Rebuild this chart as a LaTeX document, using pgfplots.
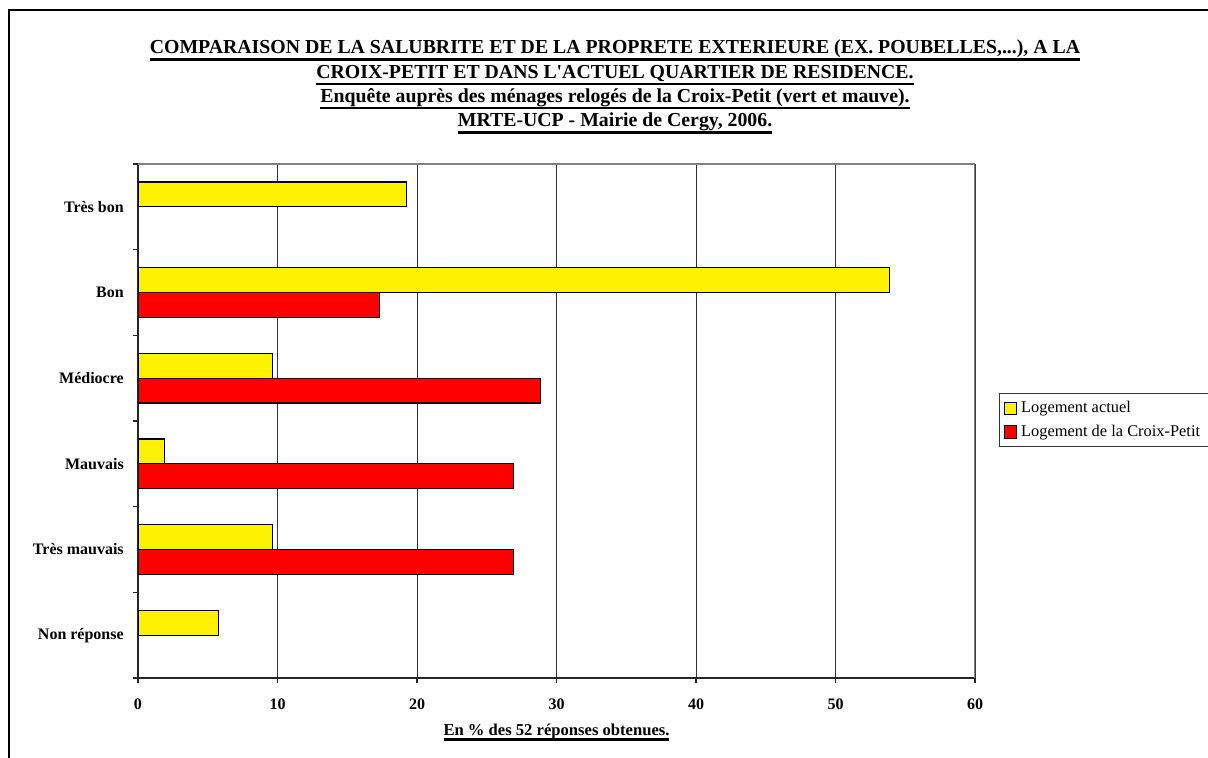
\documentclass[border=0pt]{standalone}
\usepackage{fontspec}
\setmainfont{Liberation Serif}
\usepackage{pgfplots}
\pgfplotsset{compat=1.18}
\newcommand\myul[3]{\setbox0=\hbox{#3}\rlap{\rule[#1]{\wd0}{#2}}\box0}
\newcommand\lab{\fontsize{8}{9.6}\selectfont\bfseries}
\newcommand\ttl{\fontsize{9.9}{11.5}\selectfont\bfseries}
\begin{document}
\begin{tikzpicture}
\useasboundingbox (-69pt,-40pt) rectangle (535pt,339pt);
\draw[line width=1.1pt] (-64.5pt,-41pt) -- (-64.5pt,334pt) -- (536pt,334pt);
\begin{axis}[
  at={(0pt,0pt)}, anchor=south west,
  scale only axis, width=418.5pt, height=257pt,
  xbar, bar width=0.29,
  xmin=0, xmax=60, ymin=-0.5, ymax=5.5,
  axis x line*=bottom, axis y line*=left,
  axis line style={-, draw=black!85, line width=0.75pt},
  xtick={0,10,...,60},
  ytick={-0.5,0.5,...,5.5}, yticklabels={},
  extra y ticks={0,1,2,3,4,5},
  extra y tick labels={Non réponse,Très mauvais,Mauvais,Médiocre,Bon,Très bon},
  extra y tick style={major tick length=0pt},
  tick align=outside, major tick length=2.5pt,
  tick style={draw=black!85, line width=0.6pt},
  xmajorgrids=true,
  grid style={draw=black!80, line width=0.5pt},
  /pgf/number format/assume math mode=true,
  ticklabel style={font=\lab},
  xticklabel style={yshift=-4.3pt},
  yticklabel style={xshift=-3.6pt},
  legend style={at={(rel axis cs:1.0287,0.5545)}, anchor=north west,
    draw=black!80, line width=0.5pt, font=\fontsize{8.2}{9.8}\selectfont,
    inner xsep=2pt, inner ysep=1.5pt, row sep=0pt,
    nodes={inner ysep=2.3pt},
    cells={anchor=west}},
  legend cell align=left,
  legend image code/.code={\draw[#1,line width=0.5pt] (0pt,-3.1pt) rectangle (6.3pt,3.1pt);},
]
\addplot[fill=yellow, draw=black, line width=0.6pt, bar shift=0.145]
  coordinates {(19.23,5) (53.85,4) (9.62,3) (1.92,2) (9.62,1) (5.77,0)};
\addlegendentry{Logement actuel}
\addplot[fill=red, draw=black, line width=0.6pt, bar shift=-0.145]
  coordinates {(17.31,4) (28.85,3) (26.92,2) (26.92,1)};
\addlegendentry{Logement de la Croix-Petit}
\draw[black!50, line width=0.6pt] (rel axis cs:0,1) -- (rel axis cs:1,1) -- (rel axis cs:1,0);
\end{axis}
\node[anchor=base, inner sep=0pt] at (238.5pt,312pt) {\ttl\myul{-3.35pt}{1.2pt}{COMPARAISON DE LA SALUBRITE ET DE LA PROPRETE EXTERIEURE (EX. POUBELLES,...), A LA}};
\node[anchor=base, inner sep=0pt] at (238.5pt,299.85pt) {\ttl\myul{-3.35pt}{1.2pt}{CROIX-PETIT ET DANS L\textquotesingle ACTUEL QUARTIER DE RESIDENCE.}};
\node[anchor=base, inner sep=0pt] at (238.5pt,287.7pt) {\ttl\myul{-3.35pt}{1.2pt}{Enquête auprès des ménages relogés de la Croix-Petit (vert et mauve).}};
\node[anchor=base, inner sep=0pt] at (238.5pt,275.55pt) {\ttl\myul{-3.35pt}{1.2pt}{MRTE-UCP - Mairie de Cergy, 2006.}};
\node[anchor=base, inner sep=0pt] at (209.25pt,-29pt) {\fontsize{8.3}{10}\selectfont\bfseries\myul{-2.5pt}{1.3pt}{En \% des 52 réponses obtenues.}};
\end{tikzpicture}
\end{document}
